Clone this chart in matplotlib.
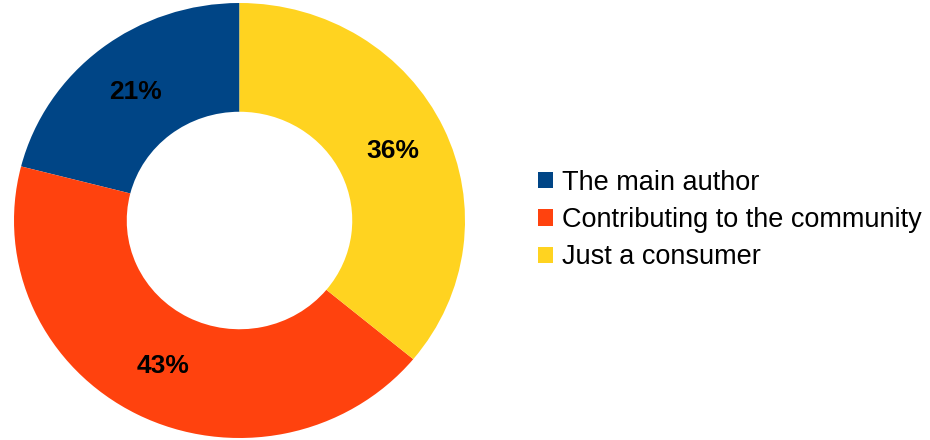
import matplotlib.pyplot as plt
from matplotlib.patches import Patch

plt.rcParams['font.family'] = ['Liberation Sans', 'DejaVu Sans']

# data
labels = ['The main author', 'Contributing to the community', 'Just a consumer']
shares = [21, 43, 36]
colors = ['#004586', '#ff420e', '#ffd320']

fig = plt.figure(figsize=(9.3, 4.4), dpi=100)
# axes box spans the ring's outer bounding box
ax = fig.add_axes([14/930, 1 - 438/440, 451/930, 435/440])

wedges, texts, autotexts = ax.pie(shares, colors=colors, startangle=90, counterclock=True,
                                  radius=1.0, wedgeprops=dict(width=0.5, linewidth=0),
                                  autopct='%d%%', pctdistance=0.75,
                                  textprops=dict(fontsize=19, fontweight='bold', color='black'))
ax.set_aspect('auto')
ax.set_xlim(-1, 1)
ax.set_ylim(-1, 1)
ax.axis('off')

handles = [Patch(facecolor=c, edgecolor='none') for c in colors]
fig.legend(handles, labels, loc='center left', bbox_to_anchor=(538/930, 0.5),
           frameon=False, fontsize=19.5, handlelength=0.55, handleheight=0.55,
           handletextpad=0.35, labelspacing=0.42, borderpad=0, borderaxespad=0)

fig.savefig('out.png', dpi=100)
